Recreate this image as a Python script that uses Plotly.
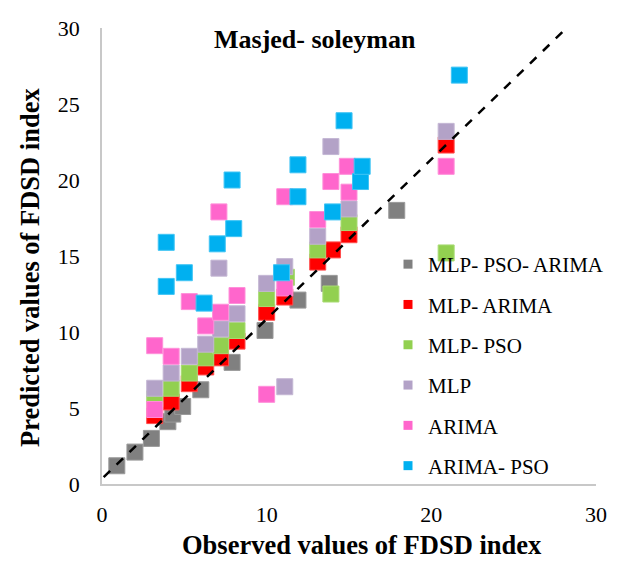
import plotly.graph_objects as go

series_names = ["MLP- PSO- ARIMA", "MLP- ARIMA", "MLP- PSO", "MLP", "ARIMA", "ARIMA- PSO"]
series_colors = ["#808080", "#FF0000", "#92D050", "#B3A2C7", "#FF66CC", "#00B0F0"]
border_colors = ["#9a9a9a", "#ff4d4d", "#a8db73", "#c4b7d4", "#ff8fd9", "#40c4f4"]

mlp_pso_arima_x = [0.9, 2.0, 3.0, 4.0, 4.3, 4.9, 6.0, 7.9, 9.9, 11.9, 13.8, 17.9]
mlp_pso_arima_y = [1.2, 2.1, 3.0, 4.1, 4.6, 5.1, 6.2, 8.0, 10.1, 12.1, 13.2, 18.0]

mlp_arima_x = [3.2, 4.2, 5.3, 6.3, 7.2, 8.2, 10.0, 11.1, 13.1, 14.0, 15.0, 20.9]
mlp_arima_y = [4.5, 5.4, 6.6, 7.7, 8.3, 9.4, 11.3, 12.3, 14.6, 15.4, 16.4, 22.3]

mlp_pso_x = [3.2, 4.2, 5.3, 6.3, 7.2, 8.2, 10.0, 11.2, 13.1, 13.9, 15.0, 20.9]
mlp_pso_y = [5.6, 6.3, 7.3, 8.3, 9.1, 10.1, 12.2, 13.6, 15.4, 12.5, 17.2, 15.2]

mlp_x = [3.2, 4.2, 5.3, 6.3, 7.1, 7.2, 8.2, 10.0, 11.1, 11.1, 13.1, 13.9, 15.0, 20.9]
mlp_y = [6.3, 7.3, 8.4, 9.2, 14.2, 10.2, 11.2, 13.2, 6.4, 14.3, 16.3, 22.2, 18.1, 23.2]

arima_x = [3.2, 3.2, 4.2, 5.3, 6.3, 7.1, 7.2, 8.2, 10.0, 11.1, 11.1, 13.1, 13.9, 14.9, 15.0, 20.9]
arima_y = [4.9, 9.1, 8.4, 12.0, 10.4, 17.9, 11.3, 12.4, 5.9, 12.9, 18.9, 17.4, 19.9, 20.9, 19.2, 20.9]

arima_pso_x = [3.9, 3.9, 5.0, 6.2, 7.0, 8.0, 7.9, 10.9, 11.9, 11.9, 14.0, 14.7, 15.7, 15.8, 21.7]
arima_pso_y = [13.0, 15.9, 13.9, 11.9, 15.8, 16.8, 20.0, 13.9, 18.9, 21.0, 17.9, 23.9, 19.9, 20.9, 26.9]

ref_line_x = [0.1, 28.5]
ref_line_y = [0.45, 30.3]

axis_ticks = [0, 5, 10, 15, 20, 25, 30]
x_ticks = [0, 10, 20, 30]

all_x = [mlp_pso_arima_x, mlp_arima_x, mlp_pso_x, mlp_x, arima_x, arima_pso_x]
all_y = [mlp_pso_arima_y, mlp_arima_y, mlp_pso_y, mlp_y, arima_y, arima_pso_y]

FONT = "Liberation Serif, Times New Roman, serif"

fig = go.Figure()

for i, name in enumerate(series_names):
    fig.add_trace(go.Scatter(
        x=all_x[i], y=all_y[i], mode="markers", name=name,
        legendgroup=name, showlegend=False,
        marker=dict(symbol="square", size=16, color=series_colors[i],
                    line=dict(color=border_colors[i], width=1)),
        cliponaxis=False,
    ))

fig.add_trace(go.Scatter(
    x=ref_line_x, y=ref_line_y, mode="lines", showlegend=False,
    line=dict(color="black", width=2.5, dash="dash"), cliponaxis=False,
))

# legend entries
for i, name in enumerate(series_names):
    fig.add_trace(go.Scatter(
        x=[None], y=[None], mode="markers", name=name, legendgroup=name,
        showlegend=True,
        marker=dict(symbol="square", size=9, color=series_colors[i]),
    ))

fig.update_layout(
    width=624, height=561,
    margin=dict(l=102, r=28, t=28, b=77),
    paper_bgcolor="white", plot_bgcolor="white",
    font=dict(family=FONT, color="black"),
    showlegend=True,
    legend=dict(
        x=(388 - 102) / 494, y=(484 - 244) / 456, xanchor="left", yanchor="top",
        font=dict(family=FONT, size=21, color="black"),
        bgcolor="rgba(0,0,0,0)", tracegroupgap=10, itemsizing="trace",
        traceorder="grouped",
    ),
    xaxis=dict(
        range=[0, 30], tickvals=x_ticks, showgrid=False, zeroline=False,
        showline=True, linecolor="#c8c8c8", linewidth=1.5,
        ticks="", tickfont=dict(family=FONT, size=22, color="black"),
        ticklabelstandoff=10,
    ),
    yaxis=dict(
        range=[0, 30], tickvals=axis_ticks, showgrid=False, zeroline=False,
        showline=True, linecolor="#c8c8c8", linewidth=1.5,
        ticks="", tickfont=dict(family=FONT, size=22, color="black"),
        ticklabelstandoff=16,
    ),
    annotations=[
        dict(text="<b>Masjed- soleyman</b>", x=(315 - 102) / 494, y=(484 - 39) / 456,
             xref="paper", yref="paper", showarrow=False,
             font=dict(family=FONT, size=26, color="black"), xanchor="center", yanchor="middle"),
        dict(text="<b>Observed values of FDSD index</b>", x=(362 - 102) / 494, y=(484 - 545) / 456,
             xref="paper", yref="paper", showarrow=False,
             font=dict(family=FONT, size=26.5, color="black"), xanchor="center", yanchor="middle"),
        dict(text="<b>Predicted values of FDSD index</b>", x=(30 - 102) / 494, y=(484 - 268) / 456,
             xref="paper", yref="paper", showarrow=False, textangle=-90,
             font=dict(family=FONT, size=26.5, color="black"), xanchor="center", yanchor="middle"),
    ],
)

fig.write_html("out.html")
